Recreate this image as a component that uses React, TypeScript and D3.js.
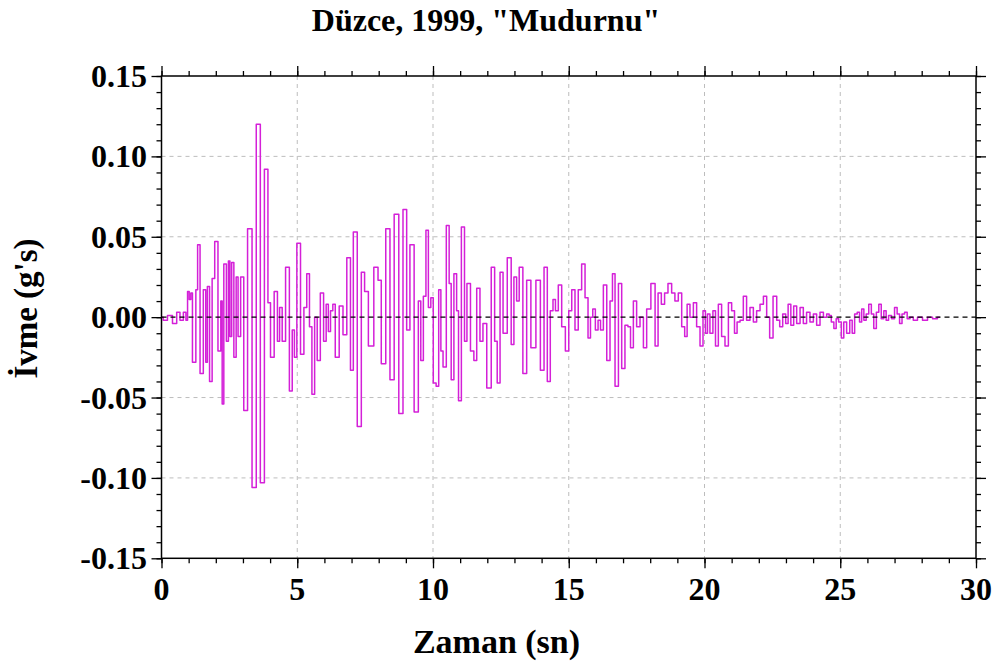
import { useEffect, useRef } from 'react'
import * as d3 from 'd3'

// ── data: peaks / troughs, [time (s), acceleration (g)] ──
const onset: [number, number][] = [
  [0.00, 0.000], [0.13, -0.002], [0.31, 0.001], [0.50, -0.004], [0.62, 0.003], [0.74, -0.002],
  [0.87, 0.003], [0.93, -0.002], [0.99, 0.016], [1.05, 0.011], [1.11, 0.015], [1.17, -0.028],
  [1.23, -0.028], [1.30, 0.017], [1.36, 0.045], [1.48, -0.035], [1.60, 0.017], [1.66, -0.028],
  [1.72, 0.019], [1.82, -0.040], [1.91, 0.024], [2.01, 0.047], [2.15, -0.021], [2.22, 0.010],
  [2.25, -0.054], [2.34, 0.033], [2.44, -0.015], [2.49, 0.035], [2.55, -0.012], [2.62, 0.034],
  [2.71, -0.025], [2.79, 0.025], [2.85, -0.012], [2.98, 0.025], [3.08, -0.058], [3.26, 0.055],
  [3.41, -0.106], [3.57, 0.120], [3.71, -0.103], [3.87, 0.092], [3.97, 0.009], [4.06, -0.025],
  [4.24, 0.016], [4.30, -0.015], [4.40, 0.006], [4.49, -0.015], [4.65, 0.031], [4.77, -0.046],
]
const strong: [number, number][] = [
  [4.86, -0.008], [4.93, -0.025], [5.04, 0.046], [5.20, -0.023], [5.29, 0.006], [5.41, 0.027],
  [5.49, -0.006], [5.59, -0.048], [5.69, 0.000], [5.78, -0.027], [5.92, 0.015], [6.02, -0.015],
  [6.11, 0.008], [6.18, -0.009], [6.27, 0.004], [6.35, 0.008], [6.45, -0.025], [6.64, 0.007],
  [6.73, -0.011], [6.92, 0.037], [7.00, -0.033], [7.13, 0.053], [7.29, -0.068], [7.43, 0.028],
  [7.53, 0.016], [7.71, -0.018], [7.93, 0.031], [8.02, 0.023], [8.17, -0.029], [8.35, 0.055],
  [8.48, -0.039], [8.66, 0.064], [8.82, -0.060], [8.97, 0.067], [9.09, -0.008], [9.21, 0.045],
  [9.40, -0.059], [9.52, 0.010], [9.58, -0.027], [9.71, 0.013],
]
const middle: [number, number][] = [
  [9.77, 0.054], [9.89, 0.006], [9.95, 0.012], [10.07, -0.041], [10.16, -0.043], [10.26, 0.017],
  [10.32, -0.021], [10.42, -0.031], [10.56, 0.057], [10.63, 0.021], [10.71, -0.039], [10.83, 0.027],
  [10.91, 0.004], [10.97, -0.052], [11.12, 0.056], [11.20, -0.015], [11.30, 0.021], [11.46, -0.021],
  [11.55, -0.027], [11.67, 0.018], [11.79, -0.015], [11.89, -0.004], [12.07, -0.044], [12.22, 0.031],
  [12.32, -0.015], [12.41, -0.041], [12.53, 0.028], [12.63, -0.010], [12.84, 0.037], [12.92, -0.017],
  [13.04, 0.025], [13.12, 0.010], [13.23, 0.031], [13.39, -0.035], [13.51, 0.023], [13.70, -0.019],
  [13.88, 0.023], [14.03, -0.033], [14.15, 0.031], [14.27, -0.040], [14.37, 0.004], [14.47, 0.011],
  [14.55, 0.004],
]
const late: [number, number][] = [
  [14.68, 0.020], [14.80, -0.006], [14.95, -0.021], [15.05, 0.004], [15.17, 0.017], [15.29, -0.008],
  [15.41, 0.017], [15.54, 0.033], [15.66, 0.012], [15.76, -0.013], [15.84, 0.000], [15.93, 0.005],
  [16.03, -0.008], [16.13, -0.002], [16.21, -0.008], [16.34, 0.020], [16.46, -0.027], [16.58, 0.010],
  [16.64, 0.027], [16.77, -0.043], [16.89, 0.021], [17.01, -0.032], [17.13, -0.005], [17.23, -0.006],
  [17.32, -0.019], [17.44, 0.010], [17.56, -0.006], [17.69, 0.000], [17.81, -0.019], [17.93, 0.005],
  [18.12, 0.021], [18.24, -0.018], [18.34, 0.015], [18.48, 0.008], [18.58, 0.015], [18.73, 0.021],
  [18.85, 0.015], [18.97, 0.010], [19.10, 0.015], [19.22, -0.006], [19.32, -0.012], [19.40, 0.008],
  [19.53, 0.000], [19.65, 0.009],
]
const coda: [number, number][] = [
  [19.77, -0.006], [19.90, -0.018], [19.99, 0.004], [20.08, -0.010], [20.14, 0.002], [20.26, -0.010],
  [20.36, 0.004], [20.45, -0.018], [20.57, 0.008], [20.69, -0.012], [20.82, -0.018], [20.94, 0.009],
  [21.06, 0.004], [21.15, -0.010], [21.25, -0.003], [21.37, -0.002], [21.49, 0.013], [21.61, -0.002],
  [21.74, 0.006], [21.86, -0.003], [21.98, 0.004], [22.11, 0.008], [22.23, 0.013], [22.35, 0.000],
  [22.45, -0.013], [22.60, 0.013], [22.72, -0.002], [22.82, -0.006], [22.94, 0.002], [23.04, -0.004],
  [23.12, 0.008], [23.24, -0.005], [23.33, 0.007], [23.46, -0.004], [23.58, 0.006], [23.70, -0.004],
  [23.82, 0.003], [23.95, -0.003], [24.07, 0.002], [24.19, -0.005], [24.32, 0.003], [24.44, 0.000],
  [24.56, 0.002],
]
const tail: [number, number][] = [
  [24.62, 0.001], [24.72, -0.003], [24.81, -0.007], [24.89, -0.001], [24.99, -0.003], [25.09, -0.013],
  [25.17, -0.003], [25.30, -0.010], [25.40, -0.002], [25.48, -0.010], [25.58, 0.002], [25.67, 0.003],
  [25.75, -0.003], [25.83, 0.005], [25.91, -0.002], [26.00, 0.002], [26.10, 0.008], [26.19, 0.002],
  [26.28, -0.007], [26.38, 0.003], [26.46, 0.008], [26.56, -0.001], [26.65, 0.004], [26.73, -0.002],
  [26.83, 0.001], [26.95, -0.001], [27.05, 0.006], [27.14, 0.002], [27.23, -0.004], [27.32, 0.002],
  [27.42, 0.003], [27.51, -0.001], [27.63, 0.000], [27.75, -0.002], [27.94, 0.000], [28.12, -0.002],
  [28.31, 0.000], [28.49, -0.001], [28.67, 0.000],
]

const xTicks      = [0, 5, 10, 15, 20, 25, 30]
const xMinor      = d3.range(0, 31, 1)
const yTicks      = [-0.15, -0.10, -0.05, 0.00, 0.05, 0.10, 0.15]
const yMinor      = d3.range(-15, 16, 1).map(v => v / 100)
const TITLE       = 'Düzce, 1999, "Mudurnu"'
const X_LABEL     = 'Zaman (sn)'
const Y_LABEL     = "İvme (g's)"

// ── constants ────────────────────────────────────────────────────────────────
const W = 1003, H = 668
const X0 = 161.5, X1 = 976, Y0 = 76, Y1 = 558.3
const FONT  = '"Liberation Serif", "Times New Roman", serif'
const CLINE = '#d420d8'
const CGRID = '#bdbdbd'

export default function App() {
  const ref = useRef<SVGSVGElement>(null)

  useEffect(() => {
    document.body.style.margin = '0'
    if (!ref.current) return
    const svg = d3.select(ref.current)
    svg.selectAll('*').remove()

    const x = d3.scaleLinear().domain([0, 30]).range([X0, X1])
    const y = d3.scaleLinear().domain([-0.15, 0.15]).range([Y1, Y0])

    // grid
    const grid = svg.append('g')
    grid.selectAll('line.gx').data(xTicks.slice(1, -1)).join('line')
      .attr('x1', d => x(d)).attr('x2', d => x(d)).attr('y1', Y0).attr('y2', Y1)
      .attr('stroke', CGRID).attr('stroke-dasharray', '4,4')
    grid.selectAll('line.gy').data(yTicks.filter(v => v !== 0 && Math.abs(v) < 0.15)).join('line')
      .attr('x1', X0).attr('x2', X1).attr('y1', d => y(d)).attr('y2', d => y(d))
      .attr('stroke', CGRID).attr('stroke-dasharray', '4,4')

    // record — stepped, as the sampled trace reads
    const record = [...onset, ...strong, ...middle, ...late, ...coda, ...tail]
    const line = d3.line<[number, number]>().x(d => x(d[0])).y(d => y(d[1])).curve(d3.curveStep)
    svg.append('path').datum(record)
      .attr('fill', 'none').attr('stroke', CLINE).attr('stroke-width', 1.5)
      .attr('stroke-linejoin', 'round')
      .attr('d', line)

    // zero line
    svg.append('line')
      .attr('x1', X0).attr('x2', X1).attr('y1', y(0)).attr('y2', y(0))
      .attr('stroke', '#000').attr('stroke-width', 1.4).attr('stroke-dasharray', '5,4')

    // axes: minor + major ticks on all four sides
    const noText = (gg: any) => gg.selectAll('text').remove()
    const styleAxis = (gg: any) => {
      gg.select('.domain').remove()
      gg.selectAll('line').attr('stroke', '#000').attr('stroke-width', 1.3)
    }
    const sides: [any, string, number][] = [
      [d3.axisBottom, `translate(0,${Y1})`, 0],
      [d3.axisTop, `translate(0,${Y0})`, 0],
      [d3.axisLeft, `translate(${X0},0)`, 1],
      [d3.axisRight, `translate(${X1},0)`, 1],
    ]
    sides.forEach(([mk, tr, isY]) => {
      const sc = isY ? y : x
      const minor = (isY ? yMinor : xMinor)
      svg.append('g').attr('transform', tr)
        .call(mk(sc).tickValues(minor).tickSize(5).tickSizeOuter(0))
        .call(styleAxis).call(noText)
      svg.append('g').attr('transform', tr)
        .call(mk(sc).tickValues(isY ? yTicks : xTicks).tickSize(10).tickSizeOuter(0))
        .call(styleAxis).call(noText)
    })

    // frame
    svg.append('rect')
      .attr('x', X0).attr('y', Y0).attr('width', X1 - X0).attr('height', Y1 - Y0)
      .attr('fill', 'none').attr('stroke', '#000').attr('stroke-width', 1.5)

    // tick labels
    svg.append('g').selectAll('text').data(xTicks).join('text')
      .attr('x', d => x(d)).attr('y', 600)
      .attr('text-anchor', 'middle')
      .attr('font-family', FONT).attr('font-weight', 'bold').attr('font-size', 32)
      .text(d => String(d))
    svg.append('g').selectAll('text').data(yTicks).join('text')
      .attr('x', 147).attr('y', d => y(d) + 11)
      .attr('text-anchor', 'end')
      .attr('font-family', FONT).attr('font-weight', 'bold').attr('font-size', 32)
      .text(d => d.toFixed(2))

    // titles
    svg.append('text')
      .attr('x', 486).attr('y', 31).attr('text-anchor', 'middle')
      .attr('font-family', FONT).attr('font-weight', 'bold').attr('font-size', 32)
      .text(TITLE)
    svg.append('text')
      .attr('x', 496.5).attr('y', 653).attr('text-anchor', 'middle')
      .attr('font-family', FONT).attr('font-weight', 'bold').attr('font-size', 34)
      .text(X_LABEL)
    svg.append('text')
      .attr('transform', 'translate(37,308.5) rotate(-90)').attr('text-anchor', 'middle')
      .attr('font-family', FONT).attr('font-weight', 'bold').attr('font-size', 33)
      .text(Y_LABEL)
  }, [])

  return (
    <svg
      ref={ref}
      width={W}
      height={H}
      viewBox={`0 0 ${W} ${H}`}
      style={{ position: 'absolute', left: 0, top: 0, background: '#fff', display: 'block' }}
    />
  )
}
